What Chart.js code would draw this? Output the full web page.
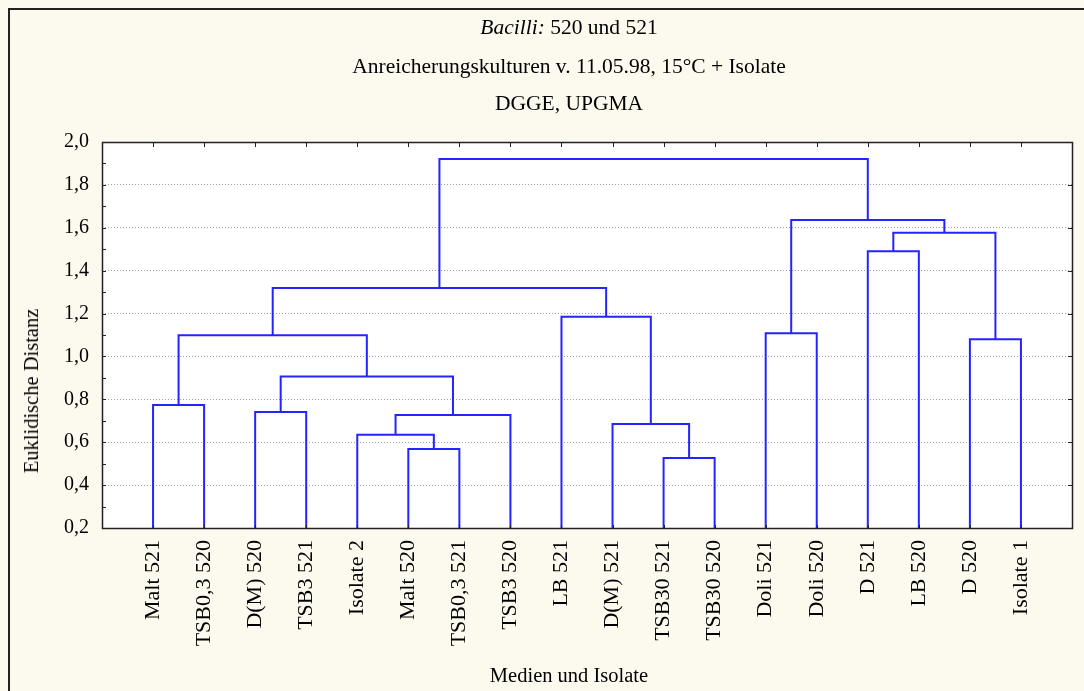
<!DOCTYPE html>
<html>
<head>
<meta charset="utf-8">
<script src="https://cdn.jsdelivr.net/npm/chart.js@4.4.1/dist/chart.umd.min.js"></script>
<style>
  body { margin: 0; background: #fcf9ef; }
  #wrap { position: relative; width: 1084px; height: 691px; overflow: hidden; background: #fcf9ef; }
  #frame { position: absolute; left: 8px; top: 8px; width: 1100px; height: 700px;
           border-left: 2px solid #222; border-top: 2px solid #222; }
  canvas { position: absolute; left: 0; top: 0; }
  .txt { position: absolute; font-family: "Liberation Serif", "Times New Roman", serif;
         font-size: 20.5px; line-height: 22px; color: #000; white-space: nowrap; }
  .title { font-size: 21.5px; }
  .center { left: 569px; transform: translateX(-50%); }
  #ytitle { left: 31px; top: 391px; transform: translate(-50%, -50%) rotate(-90deg); }
</style>
</head>
<body>
<div id="wrap">
  <div id="frame"></div>
  <canvas id="dendro" width="1084" height="691"></canvas>
  <div class="txt title center" style="top:16px"><i>Bacilli:</i> 520 und 521</div>
  <div class="txt title center" style="top:55px">Anreicherungskulturen v. 11.05.98, 15°C + Isolate</div>
  <div class="txt title center" style="top:92px">DGGE, UPGMA</div>
  <div class="txt" id="ytitle">Euklidische Distanz</div>
  <div class="txt center" style="top:664px">Medien und Isolate</div>
</div>
<script>
// leaves in dendrogram order
const leafNames = ['Malt 521', 'TSB0,3 520', 'D(M) 520', 'TSB3 521', 'Isolate 2', 'Malt 520',
  'TSB0,3 521', 'TSB3 520', 'LB 521', 'D(M) 521', 'TSB30 521', 'TSB30 520',
  'Doli 521', 'Doli 520', 'D 521', 'LB 520', 'D 520', 'Isolate 1'];

// merges: ids < 18 are leaves, id 18 + k is the cluster made by merge k
const mergeLeft   = [0, 2, 5, 4, 21, 19, 18, 10, 9, 8, 24, 12, 14, 16, 30, 29, 28];
const mergeRight  = [1, 3, 6, 20, 7, 22, 23, 11, 25, 26, 27, 13, 15, 17, 31, 32, 33];
const mergeHeight = [0.774, 0.741, 0.568, 0.635, 0.727, 0.907, 1.099, 0.526, 0.685,
  1.185, 1.319, 1.108, 1.490, 1.080, 1.577, 1.636, 1.921];

const yTickValues = [0.2, 0.4, 0.6, 0.8, 1.0, 1.2, 1.4, 1.6, 1.8, 2.0];
const yMinorStep = 0.1;

const lineColor = '#2424ff';
const fontFamily = '"Liberation Serif", "Times New Roman", serif';

// positions of every node (leaf index on x, distance on y)
const nodeX = leafNames.map((n, i) => i);
const nodeY = leafNames.map(() => 0);
const datasets = [];
for (let k = 0; k < mergeHeight.length; k++) {
  const a = mergeLeft[k], b = mergeRight[k], h = mergeHeight[k];
  datasets.push({
    data: [
      { x: nodeX[a], y: nodeY[a] },
      { x: nodeX[a], y: h },
      { x: nodeX[b], y: h },
      { x: nodeX[b], y: nodeY[b] }
    ],
    borderColor: lineColor,
    borderWidth: 2,
    pointRadius: 0,
    fill: false,
    tension: 0
  });
  nodeX.push((nodeX[a] + nodeX[b]) / 2);
  nodeY.push(h);
}

const plotFrame = {
  id: 'plotFrame',
  beforeDraw(chart) {
    const { ctx, chartArea: a } = chart;
    ctx.save();
    ctx.fillStyle = '#ffffff';
    ctx.fillRect(a.left, a.top, a.right - a.left, a.bottom - a.top);
    ctx.restore();
  },
  afterDatasetsDraw(chart) {
    const { ctx, chartArea: a, scales } = chart;
    ctx.save();
    ctx.strokeStyle = '#222';
    ctx.lineWidth = 1;
    ctx.beginPath();
    // inward ticks on left (every 0.1) and right (every 0.2)
    for (let v = yTickValues[0]; v <= yTickValues[yTickValues.length - 1] + 1e-9; v += yMinorStep) {
      const py = Math.round(scales.y.getPixelForValue(v)) + 0.5;
      ctx.moveTo(a.left, py); ctx.lineTo(a.left + 4, py);
    }
    yTickValues.forEach(v => {
      const py = Math.round(scales.y.getPixelForValue(v)) + 0.5;
      ctx.moveTo(a.right, py); ctx.lineTo(a.right - 4, py);
    });
    // inward ticks top and bottom at each leaf
    nodeX.slice(0, leafNames.length).forEach(v => {
      const px = Math.round(scales.x.getPixelForValue(v)) + 0.5;
      ctx.moveTo(px, a.top); ctx.lineTo(px, a.top + 5);
      ctx.moveTo(px, a.bottom); ctx.lineTo(px, a.bottom - 3);
    });
    ctx.stroke();
    ctx.lineWidth = 1.5;
    ctx.strokeRect(Math.round(a.left) + 0.5, Math.round(a.top) + 0.5,
      Math.round(a.right - a.left), Math.round(a.bottom - a.top));
    ctx.restore();
  }
};

Chart.defaults.color = '#000';
Chart.defaults.font.family = fontFamily;

new Chart(document.getElementById('dendro'), {
  type: 'line',
  data: { datasets: datasets },
  plugins: [plotFrame],
  options: {
    responsive: false,
    animation: false,
    layout: { padding: { left: 0, top: 142, right: 12, bottom: 0 } },
    plugins: { legend: { display: false }, tooltip: { enabled: false }, title: { display: false } },
    scales: {
      x: {
        type: 'linear',
        min: -1,
        max: leafNames.length,
        grid: { display: false, drawTicks: false },
        border: { display: false },
        afterBuildTicks: s => { s.ticks = nodeX.slice(0, leafNames.length).map(v => ({ value: v })); },
        afterFit: s => { s.height = 163; s.paddingLeft = 0; s.paddingRight = 0; },
        ticks: {
          autoSkip: false,
          minRotation: 90,
          maxRotation: 90,
          padding: 12,
          font: { size: 22 },
          callback: v => leafNames[v] || ''
        }
      },
      y: {
        min: yTickValues[0],
        max: yTickValues[yTickValues.length - 1],
        grid: { color: '#a0a0a0', lineWidth: 1, drawTicks: false },
        border: { display: false, dash: [1, 2] },
        afterBuildTicks: s => { s.ticks = yTickValues.map(v => ({ value: v })); },
        afterFit: s => { s.width = 102; },
        ticks: {
          padding: 13,
          font: { size: 20 },
          callback: v => Number(v).toFixed(1).replace('.', ',')
        }
      }
    }
  }
});
</script>
</body>
</html>
